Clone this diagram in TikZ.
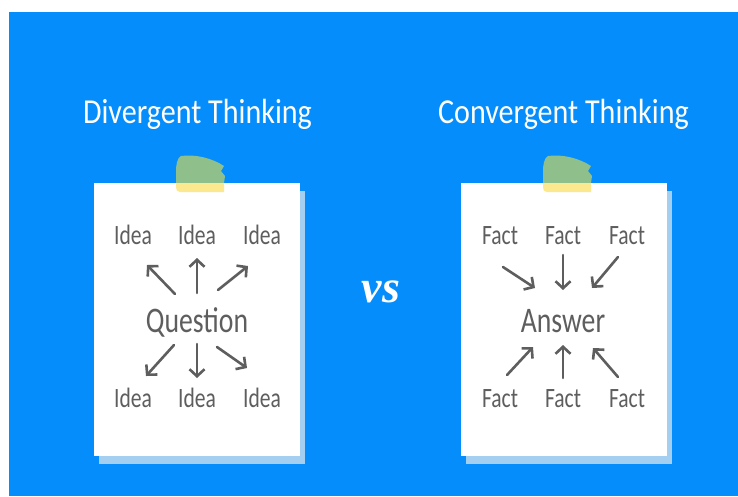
\documentclass[tikz,border=0pt]{standalone}
\usepackage{fontspec}
\usepackage{tikz}
\usetikzlibrary{arrows.meta,positioning,calc}
\newfontfamily\cardfont[FakeStretch=0.77]{Carlito}
\newfontfamily\headfont[FakeStretch=0.86]{Carlito}
\newfontfamily\vsfont{Liberation Serif}
\definecolor{bgblue}{HTML}{058DFB}
\definecolor{shadowblue}{HTML}{A4CFF1}
\definecolor{tapegreen}{HTML}{8FBF8A}
\definecolor{tapeyellow}{HTML}{FCE88F}
\definecolor{inkgray}{HTML}{5E5E5E}
\tikzset{
    heading/.style={text=white, anchor=base, font=\headfont\fontsize{35}{40}\selectfont},
    word/.style={text=inkgray, anchor=base, font=\cardfont\fontsize{28}{32}\selectfont},
    keyword/.style={word, font=\cardfont\fontsize{36}{40}\selectfont},
    arr/.style={-{Straight Barb[length=7pt, width=15pt]}, line width=2.6pt, inkgray, line cap=round},
    paper/.style={fill=white},
    backing/.style={fill=shadowblue}
}

\begin{document}
\begin{tikzpicture}[x=1pt, y=-1pt]
    \useasboundingbox (0,0) rectangle (738,496);
    \fill[bgblue] (9,12) rectangle (738,496);

    % the two cards with their tape
    \foreach \cx in {94,461} {
        \begin{scope}[shift={(\cx,0)}]
            \fill[backing] (5,191) rectangle (211,464);
            \fill[paper] (0,183) rectangle (206,456);
            \fill[tapegreen] (82,183) -- (82,172) .. controls (82,165) and (83,158) .. (87,156)
                .. controls (101,154) and (118,158) .. (130,166) -- (127,171) -- (131,176) -- (130,183) -- cycle;
            \fill[tapeyellow] (82,183) -- (130,183) -- (130,192) -- (86,192)
                .. controls (83,192) and (82,190) .. (82,187) -- cycle;
        \end{scope}
    }

    \node[heading] (divt) at (197.5,123) {Divergent Thinking};
    \node[heading] (cont) at (563.5,123) {Convergent Thinking};
    \node[text=white, anchor=base, font=\vsfont\bfseries\itshape\fontsize{46}{50}\selectfont] (vs) at (381,302) {vs};

    % divergent card
    \node[keyword] (q) at (197,332) {Question};
    \node[word] (i1) at (133,244) {Idea};
    \node[word] (i2) at (197,244) {Idea};
    \node[word] (i3) at (262,244) {Idea};
    \node[word] (i4) at (133,407) {Idea};
    \node[word] (i5) at (197,407) {Idea};
    \node[word] (i6) at (262,407) {Idea};

    \draw[arr] ([shift={(-22,-38)}]q.base) -- ([shift={(14,21)}]i1.base);
    \draw[arr] ([shift={(0,-39)}]q.base) -- ([shift={(0,14)}]i2.base);
    \draw[arr] ([shift={(21,-42)}]q.base) -- ([shift={(-14,22)}]i3.base);
    \draw[arr] ([shift={(-23,13)}]q.base) -- ([shift={(13,-31)}]i4.base);
    \draw[arr] ([shift={(0,12)}]q.base) -- ([shift={(0,-29)}]i5.base);
    \draw[arr] ([shift={(20,15)}]q.base) -- ([shift={(-15,-39)}]i6.base);

    % convergent card
    \node[keyword] (a) at (563,332) {Answer};
    \node[word] (f1) at (500,244) {Fact};
    \node[word] (f2) at (563,244) {Fact};
    \node[word] (f3) at (627,244) {Fact};
    \node[word] (f4) at (500,407) {Fact};
    \node[word] (f5) at (563,407) {Fact};
    \node[word] (f6) at (627,407) {Fact};

    \draw[arr] ([shift={(3,23)}]f1.base) -- ([shift={(-28,-44)}]a.base);
    \draw[arr] ([shift={(0,11)}]f2.base) -- ([shift={(0,-42)}]a.base);
    \draw[arr] ([shift={(-9,13)}]f3.base) -- ([shift={(29,-44)}]a.base);
    \draw[arr] ([shift={(7,-32)}]f4.base) -- ([shift={(-30,15)}]a.base);
    \draw[arr] ([shift={(0,-29)}]f5.base) -- ([shift={(0,13)}]a.base);
    \draw[arr] ([shift={(-9,-30)}]f6.base) -- ([shift={(30,16)}]a.base);
\end{tikzpicture}
\end{document}
